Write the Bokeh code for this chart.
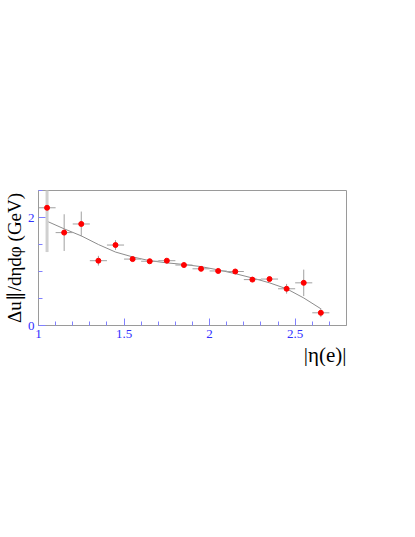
from bokeh.plotting import figure
from bokeh.models import ColumnDataSource, FixedTicker, Range1d, Title
from bokeh.embed import file_html
from bokeh.resources import INLINE

# |eta(e)| bin centres and half widths
eta = [1.05, 1.15, 1.25, 1.35, 1.45, 1.55, 1.65, 1.75, 1.85, 1.95,
       2.05, 2.15, 2.25, 2.35, 2.45, 2.55, 2.65]
eta_err = [0.05] * 17
# measured values and errors (GeV)
du = [2.18, 1.72, 1.88, 1.20, 1.49, 1.23, 1.19, 1.20, 1.12, 1.05,
      1.01, 1.00, 0.85, 0.86, 0.68, 0.79, 0.235]
du_err = [0.82, 0.34, 0.23, 0.09, 0.09, 0.04, 0.03, 0.03, 0.03, 0.03,
          0.03, 0.03, 0.04, 0.04, 0.09, 0.245, 0.08]
# fitted curve
fit_x = [1.05, 1.15, 1.25, 1.35, 1.45, 1.55, 1.65, 1.75, 1.85, 1.95,
         2.05, 2.15, 2.25, 2.35, 2.45, 2.55, 2.65]
fit_y = [1.93, 1.79, 1.66, 1.50, 1.36, 1.27, 1.20, 1.16, 1.13, 1.09,
         1.03, 0.96, 0.88, 0.79, 0.68, 0.51, 0.31]

x_major = [1.0, 1.5, 2.0, 2.5]
x_minor = [1.1, 1.2, 1.3, 1.4, 1.6, 1.7, 1.8, 1.9, 2.1, 2.2, 2.3, 2.4, 2.6, 2.7]
y_major = [0, 2]
y_minor = [0.5, 1.0, 1.5, 2.5]

SERIF = "Liberation Serif"
BLUE = "#3030ff"

p = figure(frame_width=308, frame_height=135, output_backend="svg", toolbar_location=None,
           x_range=Range1d(1.0, 2.8), y_range=Range1d(0, 2.5),
           min_border_left=10, min_border_right=60, min_border_top=190,
           min_border_bottom=20)
p.xgrid.visible = False
p.ygrid.visible = False
p.outline_line_color = "#9a9a9a"
p.outline_line_width = 1
p.background_fill_color = "white"
p.border_fill_color = "white"

for ax, maj, mnr in ((p.xaxis[0], x_major, x_minor), (p.yaxis[0], y_major, y_minor)):
    ax.ticker = FixedTicker(ticks=maj, minor_ticks=mnr)
    ax.axis_line_color = "#9a9a9a"
    ax.major_tick_line_color = "#8080ff"
    ax.minor_tick_line_color = "#8080ff"
    ax.major_tick_in = 7
    ax.major_tick_out = 0
    ax.minor_tick_in = 4
    ax.minor_tick_out = 0
    ax.major_label_text_font = SERIF
    ax.major_label_text_font_size = "13px"
    ax.major_label_text_color = BLUE
    ax.major_label_standoff = 4
    ax.axis_label_text_font = SERIF
    ax.axis_label_text_font_style = "normal"
    ax.axis_label_text_color = "black"
p.xaxis[0].major_label_overrides = {1.0: "1", 1.5: "1.5", 2.0: "2", 2.5: "2.5"}
p.yaxis[0].major_label_overrides = {0: "0", 2: "2"}

p.yaxis[0].axis_label = "Δu∥/dηdφ (GeV)"
p.yaxis[0].axis_label_text_font_size = "19px"
p.yaxis[0].axis_label_standoff = 0

p.add_layout(Title(text="|η(e)|", align="right", text_font=SERIF, text_font_size="21px",
                   text_font_style="normal", text_color="black", standoff=0, offset=0), "below")

src = ColumnDataSource(dict(
    x=eta, y=du,
    x0=[a - b for a, b in zip(eta, eta_err)], x1=[a + b for a, b in zip(eta, eta_err)],
    y0=[a - b for a, b in zip(du, du_err)], y1=[a + b for a, b in zip(du, du_err)],
))

# fit curve
p.line(fit_x, fit_y, line_color="#8c8c8c", line_width=1)

# error bars
p.segment(x0="x0", y0="y", x1="x1", y1="y", source=src, line_color="#a0a0a0", line_width=1)
p.segment(x0="x", y0="y0", x1="x", y1="y1", source=src, line_color="#a0a0a0", line_width=1)
p.segment(x0=eta[:1], y0=[du[0] - du_err[0]], x1=eta[:1], y1=[du[0] + du_err[0]],
          line_color="#d0d0d0", line_width=3)

p.scatter("x", "y", source=src, size=5, fill_color="#ff0000", line_color="#ff0000")

open("out.html", "w").write(file_html(p, INLINE))
